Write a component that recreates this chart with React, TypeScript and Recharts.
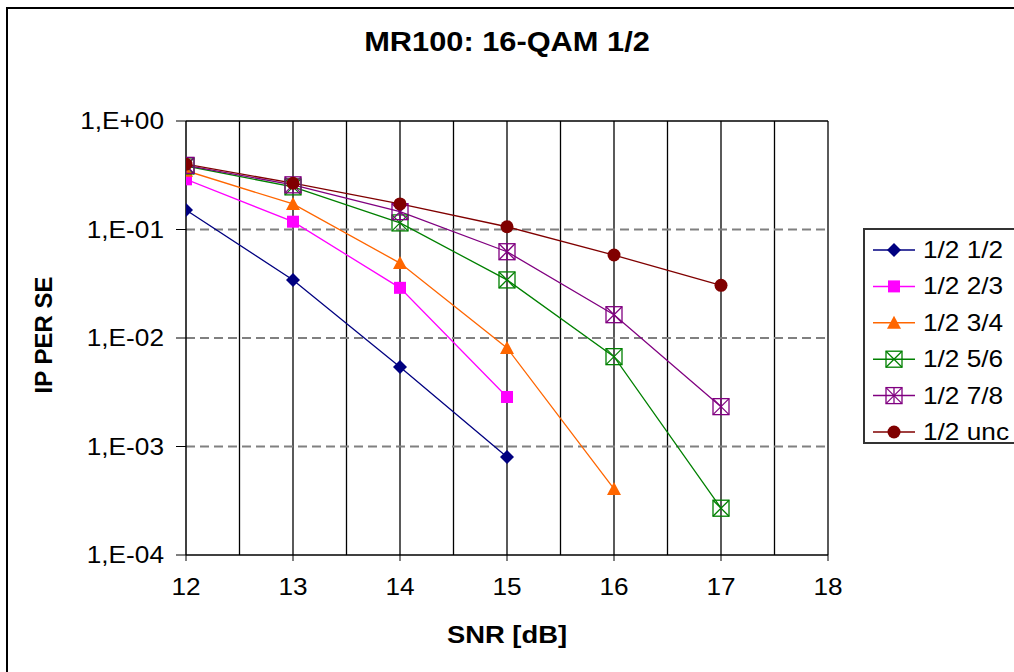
import { LineChart, Line, XAxis, YAxis, ReferenceLine, Legend } from "recharts";

const snr = [12, 13, 14, 15, 16, 17];
const xTicks = [12, 13, 14, 15, 16, 17, 18];
const xGrid = [12.5, 13, 13.5, 14, 14.5, 15, 15.5, 16, 16.5, 17, 17.5, 18];
const yTicks = [1, 0.1, 0.01, 0.001, 0.0001];
const yDashed = [0.1, 0.01, 0.001];

const per12 = [0.151, 0.0343, 0.0054, 0.0008];
const per23 = [0.29, 0.118, 0.029, 0.00286];
const per34 = [0.348, 0.172, 0.049, 0.0081, 0.000406];
const per56 = [0.385, 0.247, 0.115, 0.0343, 0.00673, 0.00027];
const per78 = [0.39, 0.258, 0.146, 0.0624, 0.0164, 0.00233];
const perUnc = [0.4, 0.267, 0.172, 0.106, 0.0582, 0.0306];

const series = [
  { name: "1/2 1/2", values: per12, color: "#000080", marker: "diamond" },
  { name: "1/2 2/3", values: per23, color: "#FF00FF", marker: "square" },
  { name: "1/2 3/4", values: per34, color: "#FF6600", marker: "triangle" },
  { name: "1/2 5/6", values: per56, color: "#008000", marker: "boxX" },
  { name: "1/2 7/8", values: per78, color: "#800080", marker: "boxStar" },
  { name: "1/2 unc", values: perUnc, color: "#800000", marker: "circle" },
];

const FONT = "'Liberation Sans', Arial, sans-serif";
const SX = 1.14; // glyphs in the original are a bit wide

const Marker = ({ kind, cx, cy, color }: any) => {
  if (cx == null || cy == null) return null;
  switch (kind) {
    case "diamond":
      return <polygon points={`${cx},${cy - 7} ${cx + 7},${cy} ${cx},${cy + 7} ${cx - 7},${cy}`} fill={color} />;
    case "square":
      return <rect x={cx - 6} y={cy - 6} width={12} height={12} fill={color} />;
    case "triangle":
      return <polygon points={`${cx},${cy - 7} ${cx + 7},${cy + 6} ${cx - 7},${cy + 6}`} fill={color} />;
    case "boxX":
    case "boxStar":
      return (
        <g stroke={color} strokeWidth={1.3} fill="none">
          <rect x={cx - 8} y={cy - 8} width={16} height={16} />
          <line x1={cx - 8} y1={cy - 8} x2={cx + 8} y2={cy + 8} />
          <line x1={cx - 8} y1={cy + 8} x2={cx + 8} y2={cy - 8} />
          {kind === "boxStar" && <line x1={cx} y1={cy - 8} x2={cx} y2={cy + 8} />}
        </g>
      );
    default:
      return <circle cx={cx} cy={cy} r={6.5} fill={color} />;
  }
};

const fmtExp = (v: number) => {
  const e = Math.round(Math.log10(v));
  return "1,E" + (e >= 0 ? "+" : "-") + String(Math.abs(e)).padStart(2, "0");
};

const YTick = ({ x, y, payload }: any) => (
  <text transform={`translate(${x - 10},${y + 8}) scale(${SX},1)`} textAnchor="end" fontSize={23} fontFamily={FONT} fill="#000">
    {fmtExp(payload.value)}
  </text>
);

const XTick = ({ x, y, payload }: any) => (
  <text transform={`translate(${x},${y + 32}) scale(${SX},1)`} textAnchor="middle" fontSize={23} fontFamily={FONT} fill="#000">
    {payload.value}
  </text>
);

const LegendBox = () => (
  <div style={{ width: 170, height: 216, border: "2px solid #333", background: "#fff", boxSizing: "border-box" }}>
    <svg width={170} height={214}>
      {series.map((s, i) => {
        const cy = 20 + i * 36.4;
        return (
          <g key={s.name}>
            <line x1={8} x2={50} y1={cy} y2={cy} stroke={s.color} strokeWidth={1.5} />
            <Marker kind={s.marker} cx={29} cy={cy} color={s.color} />
            <text transform={`translate(58,${cy + 8}) scale(${SX},1)`} fontSize={23} fontFamily={FONT} fill="#000">
              {s.name}
            </text>
          </g>
        );
      })}
    </svg>
  </div>
);

export default function App() {
  return (
    <div style={{ position: "absolute", left: 0, top: 0, width: 1014, height: 672, background: "#fff", overflow: "hidden" }}>
      <div style={{ position: "absolute", left: 6, top: 7, width: 1030, height: 700, border: "2px solid #000" }} />
      <div
        style={{
          position: "absolute", left: 0, top: 27, width: 1014, textAlign: "center",
          fontFamily: FONT, fontWeight: "bold", fontSize: 27, transform: `scaleX(${SX})`, transformOrigin: "507px 0",
        }}
      >
        MR100: 16-QAM 1/2
      </div>
      <div style={{ position: "absolute", left: 0, top: 0 }}>
        <LineChart width={1014} height={672} margin={{ top: 121, right: 186, bottom: 57, left: 0 }}>
          {xGrid.map((v) => (
            <ReferenceLine key={`gx${v}`} x={v} stroke="#000" strokeWidth={1.3} />
          ))}
          <ReferenceLine y={1} stroke="#000" strokeWidth={1.3} />
          {yDashed.map((v) => (
            <ReferenceLine key={`gy${v}`} y={v} stroke="#808080" strokeWidth={2} strokeDasharray="9 5" />
          ))}
          <XAxis
            type="number"
            dataKey="x"
            domain={[12, 18]}
            ticks={xTicks}
            allowDataOverflow
            height={60}
            tickSize={6}
            axisLine={{ stroke: "#000", strokeWidth: 1.5 }}
            tickLine={{ stroke: "#000" }}
            tick={<XTick />}
            label={({ viewBox }: any) => (
              <text
                transform={`translate(${viewBox.x + viewBox.width / 2},643) scale(${SX},1)`}
                textAnchor="middle" fontSize={24} fontWeight="bold" fontFamily={FONT} fill="#000"
              >
                SNR [dB]
              </text>
            )}
          />
          <YAxis
            type="number"
            scale="log"
            domain={[0.0001, 1]}
            ticks={yTicks}
            allowDataOverflow
            width={186}
            tickSize={10}
            axisLine={{ stroke: "#000", strokeWidth: 1.5 }}
            tickLine={{ stroke: "#000" }}
            tick={<YTick />}
            label={() => (
              <text transform="translate(52,335) rotate(-90)" textAnchor="middle" fontSize={24} fontWeight="bold" fontFamily={FONT} fill="#000">
                IP PER SE
              </text>
            )}
          />
          {series.map((s) => (
            <Line
              key={s.name}
              name={s.name}
              data={s.values.map((v, i) => ({ x: snr[i], y: v }))}
              dataKey="y"
              stroke={s.color}
              strokeWidth={1.3}
              isAnimationActive={false}
              dot={(p: any) => <Marker key={`${s.name}-${p.index}`} kind={s.marker} cx={p.cx} cy={p.cy} color={s.color} />}
              activeDot={false}
            />
          ))}
          <Legend
            layout="horizontal"
            verticalAlign="middle"
            align="center"
            content={() => <LegendBox />}
            wrapperStyle={{ left: 863, top: 228, width: 170, height: 216 }}
          />
        </LineChart>
      </div>
    </div>
  );
}
